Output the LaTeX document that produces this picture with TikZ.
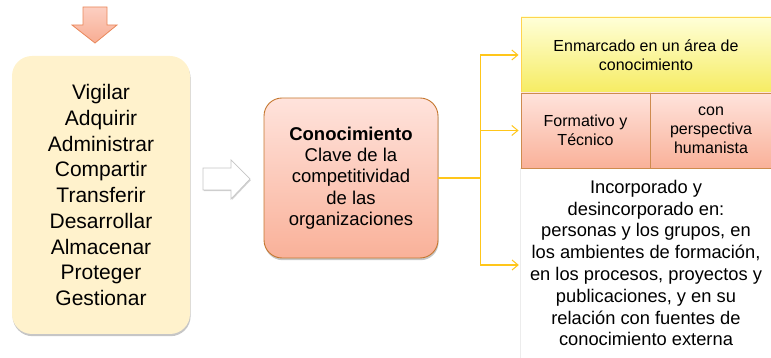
\documentclass[tikz,border=0pt]{standalone}
\usepackage{fontspec}
\setmainfont{Liberation Sans}
\usetikzlibrary{positioning, arrows.meta, shadows}

\definecolor{crema}{HTML}{FFF2CC}
\definecolor{salmonclaro}{HTML}{FFE3DC}
\definecolor{salmon}{HTML}{F9B199}
\definecolor{naranja}{HTML}{C5772F}
\definecolor{flechaborde}{HTML}{E9875A}
\definecolor{amarilloclaro}{HTML}{FFFFD8}
\definecolor{amarillo}{HTML}{F6EC62}
\definecolor{amarilloborde}{HTML}{FFD44F}
\definecolor{conector}{HTML}{FFC61A}

\begin{document}
\begin{tikzpicture}[
    x=1pt, y=1pt,
    caja/.style={rounded corners=20pt, align=center, inner sep=0pt},
    sombra/.style={drop shadow={shadow xshift=0.6pt, shadow yshift=-2.2pt, opacity=0.45, fill=gray}},
    celda/.style={rectangle, align=center, inner sep=0pt},
    conn/.style={draw=conector, line width=1.2pt, -{Straight Barb[length=6pt, width=10pt, line width=1pt]}},
    txtgrande/.style={font=\fontsize{21}{25.75}\selectfont},
    txtmedio/.style={font=\fontsize{18.5}{21.3}\selectfont},
    txtchico/.style={font=\fontsize{16}{19.2}\selectfont}
]
\useasboundingbox (0,0) rectangle (771,358);

% --- flecha de entrada (arriba) ---
\path[draw=flechaborde, line width=0.8pt, top color=salmonclaro!60!salmon, bottom color=salmon!90!flechaborde]
    (83,351) -- (107,351) -- (107,333) -- (117,333) -- (95,315) -- (72,333) -- (83,333) -- cycle;

% --- procesos ---
\node[caja, sombra, fill=crema, minimum width=178, minimum height=278, txtgrande] (procesos) at (101,163)
    {Vigilar\\Adquirir\\Administrar\\Compartir\\Transferir\\Desarrollar\\Almacenar\\Proteger\\Gestionar};

% --- flecha hueca hacia el centro ---
\path[draw=gray!45, line width=0.7pt, fill=white, drop shadow={shadow xshift=0.8pt, shadow yshift=-1.2pt, opacity=0.35, fill=gray}]
    (203,190) -- (231,190) -- (231,198) -- (250,179) -- (231,159) -- (231,168) -- (203,168) -- cycle;

% --- conocimiento ---
\node[caja, rounded corners=18pt, sombra, draw=naranja, line width=0.9pt, top color=salmonclaro, bottom color=salmon,
      minimum width=174, minimum height=160, txtmedio] (centro) at (351,180)
    {\textbf{Conocimiento}\\Clave de la\\competitividad\\de las\\organizaciones};

% --- bloques de la derecha ---
\node[celda, draw=amarilloborde, line width=0.9pt, top color=amarilloclaro, bottom color=amarillo,
      minimum width=250, minimum height=76, txtchico] (enmarcado) at (646,303)
    {Enmarcado en un área de\\conocimiento};
\node[celda, draw=naranja!85, line width=0.9pt, top color=salmonclaro, bottom color=salmon,
      minimum width=129, minimum height=75, font=\fontsize{16}{18.5}\selectfont] (formativo) at (585.5,227.5)
    {Formativo y\\Técnico};
\node[celda, draw=naranja!85, line width=0.9pt, top color=salmonclaro, bottom color=salmon,
      minimum width=121, minimum height=75, txtchico] (humanista) at (711,227.5)
    {con\\perspectiva\\humanista};
\node[celda, minimum width=250, minimum height=190,
      font=\fontsize{18.3}{21.8}\selectfont] (incorporado) at (646,95)
    {Incorporado y\\desincorporado en:\\personas y los grupos, en\\los ambientes de formación,\\en los procesos, proyectos y\\publicaciones, y en su\\relación con fuentes de\\conocimiento externa};
\draw[gray!15, line width=0.8pt] (incorporado.north west) -- (incorporado.south west);

% --- conectores ---
\draw[draw=conector, line width=1.2pt] (centro.east) -- ++(42,0) coordinate (split);
\draw[conn] (split) |- ([xshift=-2pt]enmarcado.west);
\draw[conn] (split) |- ([xshift=-2pt]formativo.west);
\draw[conn] (split) |- ([xshift=-2pt, yshift=-2pt]incorporado.west);

\end{tikzpicture}
\end{document}
